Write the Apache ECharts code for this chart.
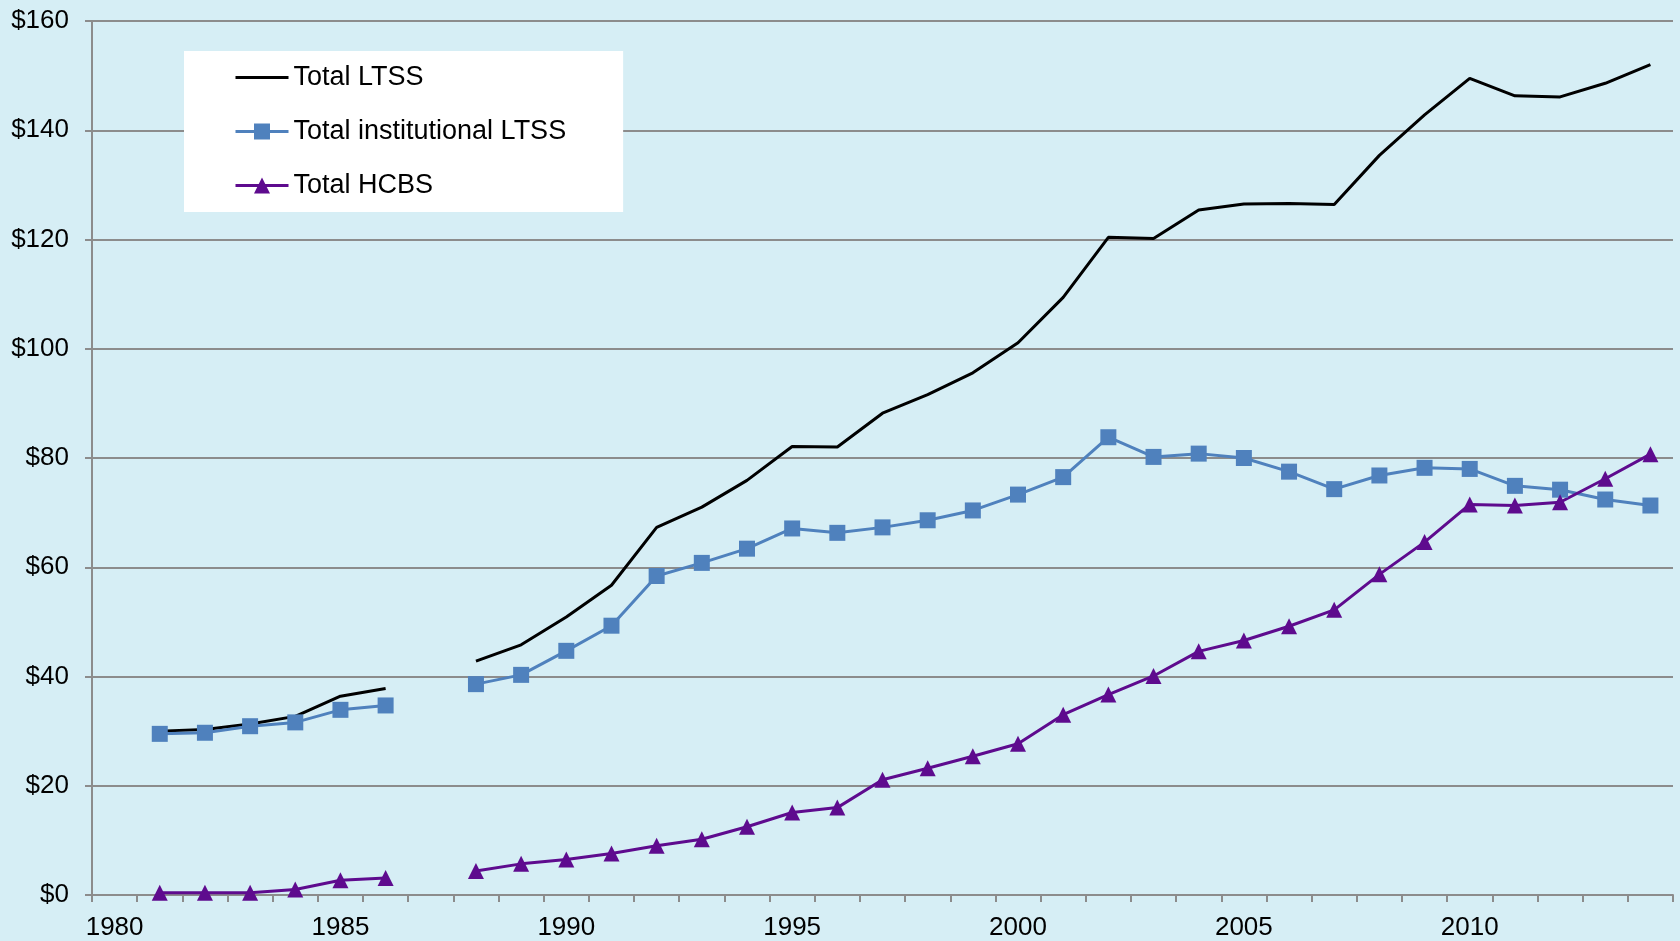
<!DOCTYPE html>
<html>
<head>
<meta charset="utf-8">
<script src="https://cdn.jsdelivr.net/npm/echarts@6/dist/echarts.min.js"></script>
<style>
html,body{margin:0;padding:0;background:#D6EEF5;}
#chart{width:1680px;height:941px;}
</style>
</head>
<body>
<div id="chart"></div>
<script>
const years = [];
for (let y = 1980; y <= 2014; y++) years.push(String(y));

const totalLTSS = [null, 30.0, 30.3, 31.3, 32.7, 36.4, 37.8, null, 42.8, 45.8, 50.9, 56.7, 67.3, 71.0, 75.9, 82.1,
  82.0, 88.2, 91.6, 95.6, 101.1, 109.4, 120.4, 120.2, 125.4, 126.5, 126.6, 126.4, 135.4, 142.8, 149.5,
  146.3, 146.1, 148.6, 152.0];
const totalInstitutional = [null, 29.5, 29.7, 30.9, 31.6, 33.9, 34.7, null, 38.6, 40.3, 44.7, 49.3, 58.4, 60.8, 63.4, 67.1,
  66.3, 67.3, 68.6, 70.4, 73.3, 76.5, 83.8, 80.2, 80.8, 80.0, 77.5, 74.3, 76.8, 78.2, 78.0,
  74.9, 74.2, 72.4, 71.3];
const totalHCBS = [null, 0.4, 0.4, 0.4, 1.0, 2.7, 3.1, null, 4.4, 5.7, 6.5, 7.6, 9.0, 10.2, 12.5, 15.1,
  16.0, 21.1, 23.2, 25.4, 27.7, 33.0, 36.7, 40.1, 44.6, 46.6, 49.2, 52.2, 58.7, 64.6, 71.5,
  71.3, 71.9, 76.2, 80.7];

const FONT = 'Arial, "Liberation Sans", sans-serif';
const GRID_COLOR = '#8c8c8c';

const chart = echarts.init(document.getElementById('chart'), null, {renderer: 'canvas'});
chart.setOption({
  backgroundColor: '#D6EEF5',
  animation: false,
  grid: {left: 92, right: 7, top: 21, bottom: 44, containLabel: false},
  legend: {
    orient: 'vertical',
    left: 184,
    top: 51,
    backgroundColor: '#ffffff',
    padding: [13, 57, 13, 50],
    itemGap: 27,
    itemWidth: 53,
    itemHeight: 20,
    lineStyle: {width: 3},
    textStyle: {fontSize: 27, lineHeight: 27, color: '#000', fontFamily: FONT},
    data: [
      {name: 'Total LTSS', itemStyle: {opacity: 0, color: 'rgba(0,0,0,0)', borderWidth: 0}},
      'Total institutional LTSS',
      'Total HCBS'
    ]
  },
  xAxis: {
    type: 'category',
    data: years,
    boundaryGap: true,
    axisLine: {lineStyle: {color: GRID_COLOR, width: 2}},
    axisTick: {show: true, interval: 0, length: 7, lineStyle: {color: GRID_COLOR, width: 2}},
    axisLabel: {
      interval: function (i) { return i % 5 === 0; },
      fontSize: 26, color: '#000', fontFamily: FONT, margin: 20
    },
    splitLine: {show: false}
  },
  yAxis: {
    type: 'value',
    min: 0, max: 160, interval: 20,
    axisLine: {show: true, lineStyle: {color: GRID_COLOR, width: 2}},
    axisTick: {show: true, length: 7, lineStyle: {color: GRID_COLOR, width: 2}},
    axisLabel: {formatter: '${value}', fontSize: 26, color: '#000', fontFamily: FONT, margin: 23},
    splitLine: {show: true, lineStyle: {color: GRID_COLOR, width: 2}}
  },
  series: [
    {
      name: 'Total LTSS', type: 'line', data: totalLTSS,
      symbol: 'none', connectNulls: false,
      lineStyle: {color: '#000000', width: 3},
      itemStyle: {color: '#000000'}
    },
    {
      name: 'Total institutional LTSS', type: 'line', data: totalInstitutional,
      symbol: 'rect', symbolSize: 16, connectNulls: false,
      lineStyle: {color: '#4F81BD', width: 3},
      itemStyle: {color: '#4F81BD'}
    },
    {
      name: 'Total HCBS', type: 'line', data: totalHCBS,
      symbol: 'triangle', symbolSize: 16, connectNulls: false,
      lineStyle: {color: '#5E0B8E', width: 3},
      itemStyle: {color: '#5E0B8E'}
    }
  ]
});
</script>
</body>
</html>
